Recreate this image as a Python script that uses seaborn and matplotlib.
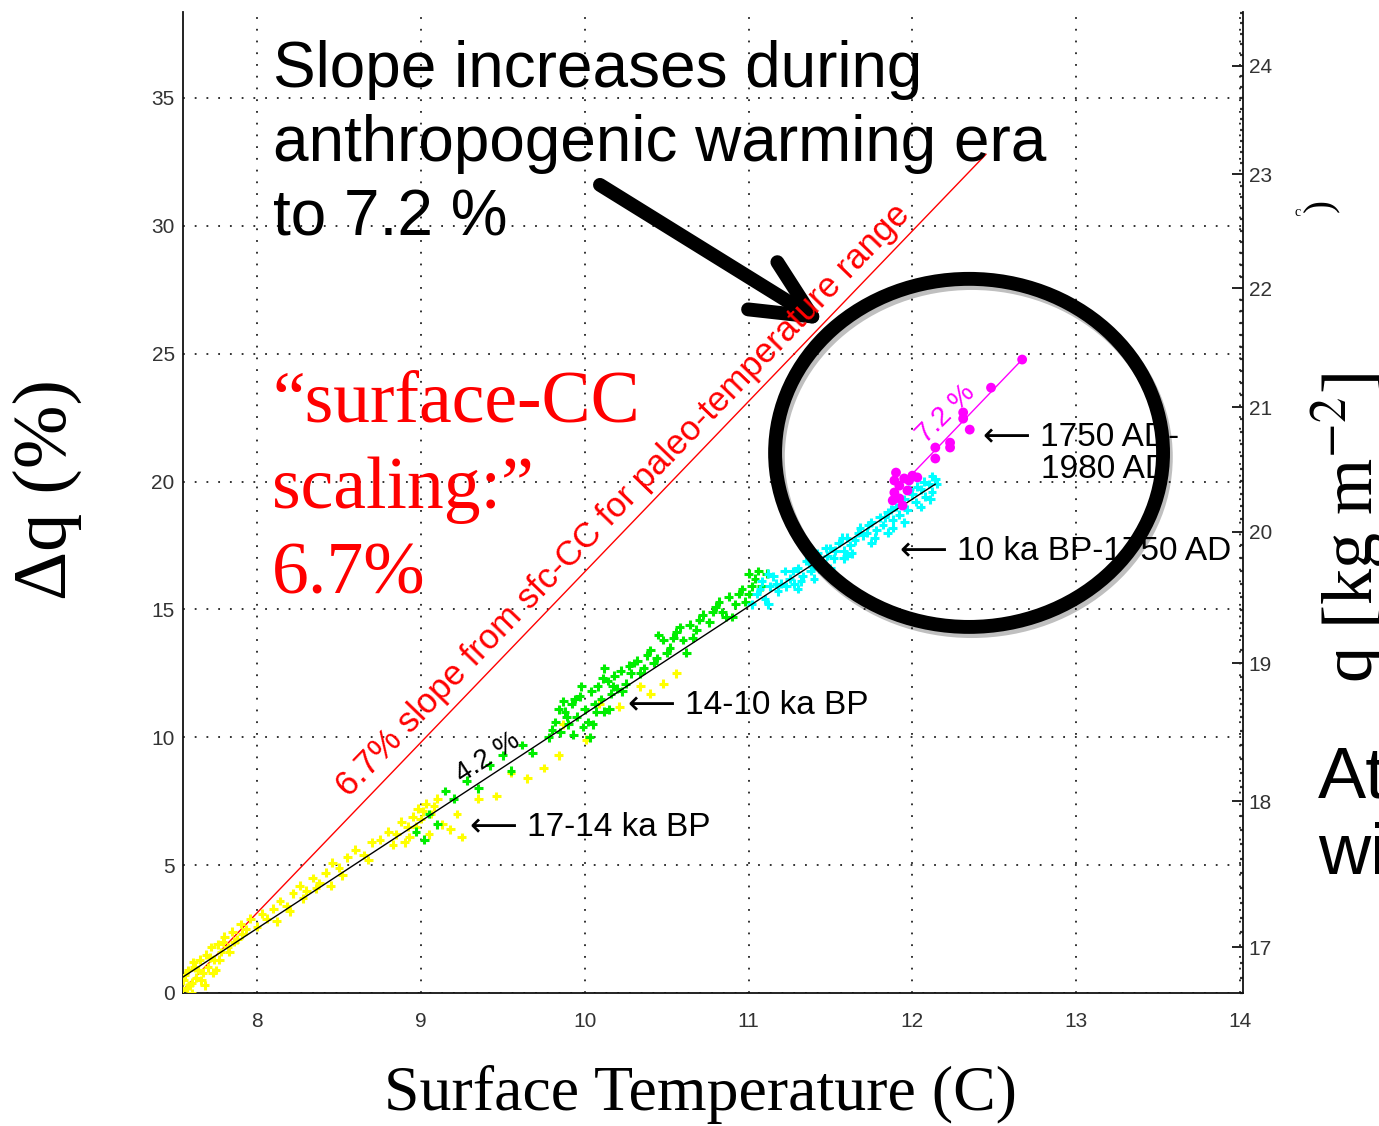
import numpy as np
import pandas as pd
import matplotlib.pyplot as plt
import matplotlib.patheffects as pe
import seaborn as sns
from matplotlib.patches import Ellipse
from matplotlib.ticker import MultipleLocator

# ---- data (surface temperature in C, delta q in %) ----
yellow_t = [7.54, 7.55, 7.57, 7.58, 7.60, 7.62, 7.63, 7.65, 7.67, 7.69, 7.70, 7.72, 7.74,
            7.76, 7.78, 7.80, 7.82, 7.85, 7.88, 7.90, 7.93, 7.96, 8.00, 8.03, 8.06, 8.10,
            8.14, 8.18, 8.22, 8.26, 8.30, 8.34, 8.38, 8.42, 8.46, 8.50, 8.55, 8.60, 8.65,
            8.70, 8.75, 8.80, 8.85, 8.88, 8.92, 8.95, 8.98, 9.00, 9.03, 9.06, 9.10, 9.13,
            9.18, 9.22, 9.25, 8.12, 8.45, 7.75, 9.35, 9.46, 9.55, 9.65, 9.75, 9.84, 9.87,
            10.01, 10.09, 10.21, 10.34, 10.40, 10.48, 10.56, 7.60, 7.68, 8.90, 9.05,
            7.56, 7.59, 7.61, 7.64, 7.66, 7.71, 7.73, 7.77, 7.79, 7.83, 7.86, 7.91,
            8.20, 8.28, 8.36, 8.52, 8.68, 8.83, 8.93, 8.97, 9.01, 9.08]
yellow_dq = [0.1, 0.5, 0.2, 0.9, 0.4, 1.0, 0.6, 1.3, 0.8, 1.5, 1.0, 1.8, 1.3,
             1.9, 1.6, 2.2, 1.8, 2.4, 2.1, 2.7, 2.5, 2.9, 2.6, 3.1, 2.9, 3.3,
             3.6, 3.4, 3.9, 4.2, 4.0, 4.5, 4.3, 4.7, 5.1, 4.9, 5.3, 5.6, 5.4,
             5.9, 6.0, 6.3, 6.2, 6.7, 6.5, 6.9, 7.2, 6.8, 7.4, 7.0, 7.6, 6.6,
             6.4, 7.0, 6.1, 2.8, 4.2, 0.9, 7.6, 7.7, 8.6, 8.4, 8.8, 9.3, 10.5,
             9.9, 11.3, 11.2, 12.0, 11.7, 12.1, 12.5, 0.0, 0.3, 5.9, 6.2,
             0.7, 0.3, 1.2, 0.9, 0.5, 1.4, 0.8, 1.3, 2.0, 1.6, 2.0, 2.3,
             3.2, 3.7, 4.1, 4.6, 5.2, 5.8, 6.1, 6.5, 7.1, 7.3]

green_t = [8.97, 9.02, 9.05, 9.10, 9.15, 9.20, 9.28, 9.35, 9.42, 9.50, 9.55, 9.62, 9.68,
           9.78, 9.82, 9.85, 9.88, 9.90, 9.92, 9.95, 9.97, 10.00, 10.02, 10.04, 10.06,
           10.08, 10.10, 10.12, 10.14, 10.16, 10.18, 10.20, 10.22, 10.25, 10.28, 9.93,
           10.05, 9.98, 10.12, 10.03, 10.32, 10.36, 10.40, 10.44, 10.48, 10.52, 10.56,
           10.60, 10.64, 10.68, 10.72, 10.76, 10.80, 10.84, 10.88, 10.92, 10.96, 11.00,
           11.04, 11.08, 11.11, 10.62, 10.90, 10.45, 11.00, 9.87, 10.15, 10.30,
           9.80, 9.84, 9.89, 9.94, 9.99, 10.07, 10.11, 10.17, 10.23, 10.27, 10.34, 10.38,
           10.42, 10.50, 10.54, 10.58, 10.66, 10.70, 10.78, 10.82, 10.86, 10.94, 10.98,
           11.02, 11.06]
green_dq = [6.3, 6.0, 7.0, 6.6, 7.9, 7.6, 8.3, 8.0, 8.9, 9.3, 8.7, 9.7, 9.4,
            10.0, 10.6, 10.2, 11.0, 10.5, 11.3, 10.8, 11.6, 11.1, 10.6, 11.8, 11.3,
            12.0, 11.5, 11.0, 12.2, 11.7, 12.4, 11.9, 12.6, 12.1, 12.5, 10.1,
            10.5, 12.0, 12.7, 10.0, 13.0, 12.7, 13.4, 13.1, 13.8, 13.5, 14.1,
            13.8, 14.4, 14.2, 14.8, 14.5, 15.1, 14.9, 15.5, 15.2, 15.8, 15.6,
            16.2, 15.9, 16.4, 13.3, 14.7, 14.0, 16.4, 11.4, 11.1, 12.9,
            10.3, 11.1, 10.8, 11.5, 10.4, 11.0, 12.3, 12.0, 11.8, 12.8, 12.5, 13.2,
            12.9, 13.3, 13.9, 14.3, 13.9, 14.6, 14.9, 15.3, 14.7, 15.6, 15.3,
            15.9, 16.5]

cyan_t = [11.05, 11.08, 11.10, 11.13, 11.15, 11.18, 11.20, 11.22, 11.25, 11.28, 11.30,
          11.33, 11.35, 11.38, 11.40, 11.42, 11.45, 11.48, 11.50, 11.52, 11.55, 11.58,
          11.60, 11.62, 11.65, 11.68, 11.70, 11.72, 11.75, 11.78, 11.80, 11.82, 11.85,
          11.88, 11.90, 11.92, 11.95, 11.97, 12.00, 12.02, 12.05, 12.08, 12.10, 12.12,
          12.14, 11.40, 11.60, 11.85, 12.05, 11.30, 11.95, 12.12, 11.12, 11.50, 11.75,
          11.02, 11.07, 11.12, 11.17, 11.23, 11.27, 11.32, 11.37, 11.43, 11.47, 11.53,
          11.57, 11.63, 11.67, 11.73, 11.77, 11.83, 11.87, 11.93, 11.98, 12.03, 12.07,
          12.11, 12.15, 11.58, 11.88]
cyan_dq = [15.6, 16.1, 15.4, 15.9, 16.3, 15.7, 16.0, 16.5, 16.2, 16.0, 16.6,
           16.3, 16.9, 16.5, 16.7, 17.2, 16.9, 17.1, 17.4, 17.0, 17.6, 17.3,
           17.8, 17.5, 17.7, 18.2, 17.9, 18.0, 18.4, 18.1, 18.6, 18.3, 18.8,
           18.5, 19.0, 18.7, 19.3, 18.9, 19.5, 19.2, 19.7, 19.4, 19.9, 19.6,
           20.1, 16.2, 17.1, 18.0, 19.0, 15.8, 18.4, 20.2, 15.2, 16.6, 17.6,
           15.2, 15.8, 16.4, 16.0, 15.9, 16.5, 16.1, 16.8, 16.6, 17.4, 17.3,
           17.8, 17.2, 18.0, 18.3, 17.8, 18.6, 18.9, 19.1, 19.7, 19.8, 20.0,
           19.3, 19.9, 17.0, 18.2]

magenta_t = [12.67, 12.48, 12.31, 12.31, 12.35, 12.23, 12.23, 12.14, 12.14, 12.03, 12.00,
             11.89, 11.92, 11.95, 11.89, 11.92, 11.88, 11.97, 11.90, 11.98, 11.94]
magenta_dq = [24.77, 23.67, 22.70, 22.46, 22.03, 21.52, 21.33, 21.33, 20.90, 20.16, 20.23,
              20.04, 19.84, 20.12, 19.57, 19.34, 19.26, 19.65, 20.35, 20.04, 19.06]

# fitted slopes drawn in the chart
fit42_t = [7.53, 12.14]
fit42_dq = [0.55, 19.9]
fit67_t = [7.53, 12.45]
fit67_dq = [0.0, 32.8]
fit72_t = [12.00, 12.67]
fit72_dq = [20.3, 24.77]

x_ticks = [8, 9, 10, 11, 12, 13, 14]
y_ticks = [0, 5, 10, 15, 20, 25, 30, 35]
q_ticks = [17, 18, 19, 20, 21, 22, 23, 24]
q0 = 16.7  # q at delta q = 0, kg m-2

W, H = 1379, 1126


def fx(px):
    return px / W


def fy(py):
    return 1 - py / H


sns.set_style('white')
plt.rcParams['font.family'] = ['Liberation Sans', 'DejaVu Sans']
plt.rcParams['mathtext.fontset'] = 'stix'
plt.rcParams['text.color'] = 'black'

fig = plt.figure(figsize=(W / 100, H / 100), dpi=100)
ax = fig.add_axes([fx(183), 1 - 993 / H, (1243 - 183) / W, (993 - 12) / H])

points = pd.concat([
    pd.DataFrame({'T': yellow_t, 'dq': yellow_dq, 'period': '17-14 ka BP'}),
    pd.DataFrame({'T': green_t, 'dq': green_dq, 'period': '14-10 ka BP'}),
    pd.DataFrame({'T': cyan_t, 'dq': cyan_dq, 'period': '10 ka BP-1750 AD'}),
])
palette = {'17-14 ka BP': '#ffff00', '14-10 ka BP': '#00ee00', '10 ka BP-1750 AD': '#00ffff'}
sns.scatterplot(data=points, x='T', y='dq', hue='period', palette=palette, marker='+',
                s=40, linewidth=2.2, legend=False, ax=ax, zorder=3)

sns.lineplot(x=fit67_t, y=fit67_dq, color='#ff0000', lw=1.0, ax=ax, zorder=2)
sns.lineplot(x=fit42_t, y=fit42_dq, color='black', lw=1.0, ax=ax, zorder=4)
sns.lineplot(x=fit72_t, y=fit72_dq, color='#ff00ff', lw=1.0, ax=ax, zorder=4)
sns.scatterplot(x=magenta_t, y=magenta_dq, color='#ff00ff', s=50, edgecolor='none',
                ax=ax, zorder=5)

ax.set_xlim(7.548, 14.018)
ax.set_ylim(0, 38.36)
ax.set_xticks(x_ticks)
ax.set_yticks(y_ticks)
ax.set_xlabel('')
ax.set_ylabel('')
ax.grid(True, color='#222222', lw=1.3, linestyle=(0, (1, 5.5)))
ax.set_axisbelow(True)
for side in ['top', 'right']:
    ax.spines[side].set_visible(False)
for side in ['left', 'bottom']:
    ax.spines[side].set_color('#111111')
    ax.spines[side].set_linewidth(1.3)
ax.tick_params(direction='in', length=8, width=1.3, colors='#111111',
               labelsize=15, labelcolor='#333333')
ax.tick_params(axis='x', pad=14)
ax.tick_params(axis='y', pad=6)

qax = ax.secondary_yaxis('right', functions=(lambda d: q0 * np.exp(d / 100.0),
                                             lambda q: 100.0 * np.log(np.clip(q, 1e-6, None) / q0)))
qax.set_yticks(q_ticks)
qax.yaxis.set_minor_locator(MultipleLocator(0.1))
qax.spines['right'].set_linewidth(1.3)
qax.spines['right'].set_color('#111111')
qax.tick_params(which='major', direction='in', length=8, width=1.3, colors='#111111',
                labelsize=15, labelcolor='#333333', pad=4)
qax.tick_params(which='minor', direction='in', length=2.5, width=1.6, colors='#333333')

# rotated slope labels
fig.text(fx(623), fy(500), '6.7% slope from sfc-CC for paleo-temperature range',
         color='#ff0000', fontsize=25, rotation=46, ha='center', va='center',
         rotation_mode='anchor')
fig.text(fx(488), fy(758), '4.2 %', color='black', fontsize=20, rotation=33,
         ha='center', va='center', rotation_mode='anchor')
fig.text(fx(946), fy(414), '7.2 %', color='#ff00ff', fontsize=20, rotation=45,
         ha='center', va='center', rotation_mode='anchor')

# period labels
for px, py, label in [(470, 828, '\u27f5 17-14 ka BP'), (628, 705, '\u27f5 14-10 ka BP'),
                      (900, 551, '\u27f5 10 ka BP-1750 AD'), (983, 438, '\u27f5 1750 AD-'),
                      (1041, 470, '1980 AD')]:
    fig.text(fx(px), fy(py), label, fontsize=24, ha='left', va='center', color='black')

# slide annotations
fig.text(fx(273), fy(40), 'Slope increases during\nanthropogenic warming era\nto 7.2 %',
         fontsize=46, ha='left', va='top', linespacing=1.3)
fig.text(fx(272), fy(370), '\u201csurface-CC\nscaling:\u201d\n6.7%', color='#ff0000',
         family=['Liberation Serif', 'DejaVu Serif'], fontsize=53, ha='left', va='top',
         linespacing=1.36)
fig.text(fx(1318), fy(746), 'At\nwi', fontsize=52, ha='left', va='top', linespacing=1.18)

# circle around the recent points and arrow pointing at it
ring = Ellipse((12.346, 21.12), 2.368, 13.61, fill=False, lw=10, ec='black',
               clip_on=False, zorder=6,
               path_effects=[pe.SimpleLineShadow(offset=(2, -3), alpha=0.25,
                                                 shadow_color='black'), pe.Normal()])
ax.add_patch(ring)
ax.annotate('', xy=(11.473, 26.12), xytext=(10.093, 31.6), xycoords='data',
            arrowprops=dict(arrowstyle='->,head_length=2.1,head_width=1.0', lw=10,
                            color='black', capstyle='round', joinstyle='round',
                            mutation_scale=20, shrinkA=0, shrinkB=0), zorder=7)

# axis labels
serif = ['Liberation Serif', 'DejaVu Serif']
fig.text(fx(700), fy(1095), 'Surface Temperature (C)', family=serif, fontsize=46,
         ha='center', va='center')
fig.text(fx(47), fy(490), '\u0394q (%)', family=serif, fontsize=55, rotation=90,
         ha='center', va='center')
fig.text(fx(1350), fy(528), 'q [kg m$^{\\mathrm{-2}}$]', family=serif, fontsize=52,
         rotation=90, ha='center', va='center')
fig.text(fx(1322), fy(205), ')', family=serif, fontsize=28, rotation=90,
         ha='center', va='center')
fig.text(fx(1298), fy(213), 'c', family=serif, fontsize=10, ha='center', va='center')

fig.savefig('out.png', dpi=100)
